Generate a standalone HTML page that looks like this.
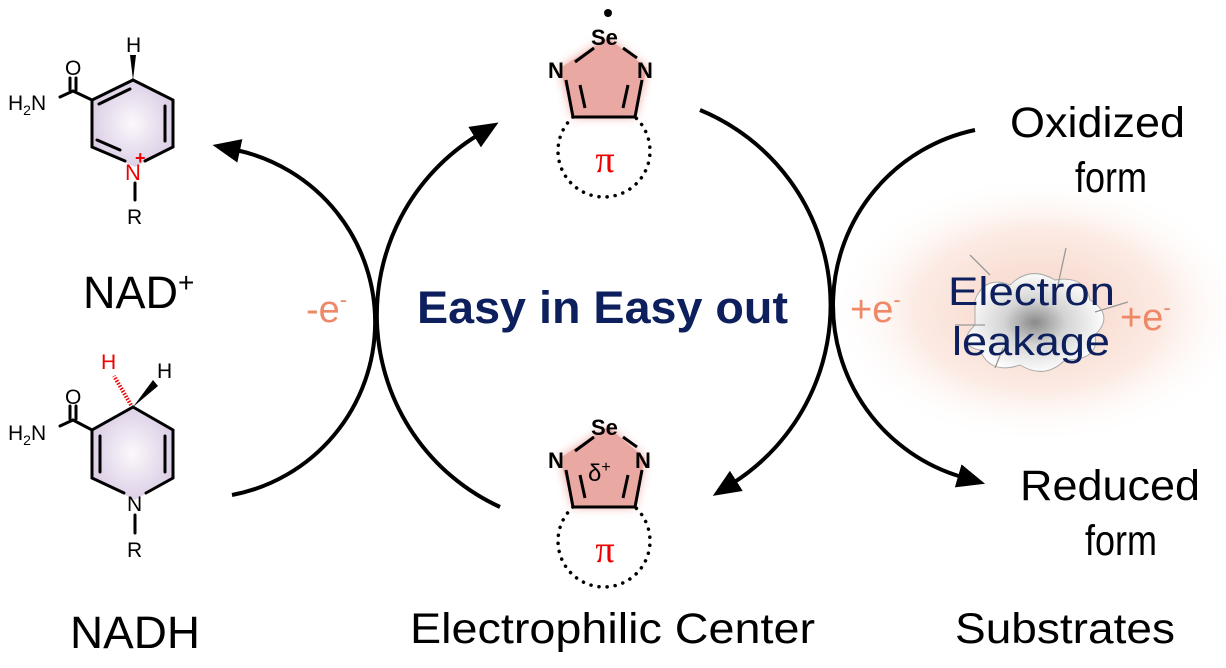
<!DOCTYPE html>
<html><head><meta charset="utf-8"><style>
html,body{margin:0;padding:0;background:#fff;}
svg{display:block;font-family:"Liberation Sans",Arial,sans-serif;}
</style></head><body>
<svg width="1226" height="668" viewBox="0 0 1226 668" xmlns="http://www.w3.org/2000/svg">
<defs>
<marker id="ah" markerWidth="30" markerHeight="26" refX="4" refY="12" orient="auto" markerUnits="userSpaceOnUse">
<path d="M0,0 L28,12 L0,24 z" fill="#000"/>
</marker>
<radialGradient id="ring" cx="50%" cy="50%" r="50%">
<stop offset="0" stop-color="#fbf8fc"/><stop offset="1" stop-color="#ddd0e6"/>
</radialGradient>
<radialGradient id="leak" cx="50%" cy="50%" r="50%">
<stop offset="0" stop-color="#f6d3c6"/><stop offset="0.6" stop-color="#fcebe4"/><stop offset="1" stop-color="#fff" stop-opacity="0"/>
</radialGradient>
<radialGradient id="cloud" cx="50%" cy="50%" r="50%">
<stop offset="0" stop-color="#8a8a8a"/><stop offset="0.45" stop-color="#d4d4d4"/><stop offset="1" stop-color="#fcfcfc"/>
</radialGradient>
<filter id="blur" x="-30%" y="-30%" width="160%" height="160%"><feGaussianBlur stdDeviation="5"/></filter>
</defs>

<!-- leakage glow -->
<ellipse cx="1040" cy="310" rx="210" ry="135" fill="url(#leak)"/>
<path d="M975,300 q10,-25 35,-15 q20,-20 45,-5 q30,-5 35,20 q25,15 5,35 q5,25 -30,25 q-20,20 -45,5 q-30,10 -40,-15 q-25,-5 -5,-25 z" fill="url(#cloud)" stroke="#aaa" stroke-width="1"/>
<g stroke="#999" stroke-width="1.3">
<line x1="970" y1="255" x2="990" y2="275"/><line x1="1066" y1="248" x2="1058" y2="285"/>
<line x1="955" y1="325" x2="985" y2="325"/><line x1="1095" y1="312" x2="1128" y2="302"/>
<line x1="995" y1="368" x2="1003" y2="348"/>
</g>

<!-- arcs -->
<g fill="none" stroke="#000" stroke-width="4">
<path d="M232,495 A176,176 0 0 0 236,150" marker-end="url(#ah)"/>
<path d="M500,507 A211,211 0 0 1 478,135" marker-end="url(#ah)"/>
<path d="M700,110 A211,211 0 0 1 733,483" marker-end="url(#ah)"/>
<path d="M975,130 A179,179 0 0 0 962,477" marker-end="url(#ah)"/>
</g>

<!-- NAD+ -->
<polygon points="133,80 173,100 173,147 135,167 92,147 92,100" fill="url(#ring)"/>
<g stroke="#000" stroke-width="3" fill="none" stroke-linecap="round">
<polyline points="133,80 173,100 173,147 145,161"/>
<polyline points="125,161 92,147 92,100 133,80"/>
<line x1="165" y1="106" x2="165" y2="141"/>
<line x1="99" y1="104" x2="130" y2="89"/>
<line x1="97" y1="140" x2="120" y2="150"/>
<line x1="135" y1="183" x2="135" y2="200"/>
<line x1="92" y1="100" x2="73" y2="91"/>
<line x1="73" y1="91" x2="60" y2="97"/>
<line x1="70" y1="90" x2="70" y2="78"/><line x1="76" y1="90" x2="76" y2="78"/>
</g>
<polygon points="133,80 130,55 136,55" fill="#000"/>
<g font-size="21" fill="#000">
<text x="126" y="52">H</text>
<text x="65" y="75">O</text>
<text x="8" y="110">H<tspan font-size="14" dy="5">2</tspan><tspan dy="-5">N</tspan></text>
<text x="127" y="224">R</text>
</g>
<text x="125" y="180" font-size="22" fill="#e00">N</text>
<text x="135" y="164" font-size="18" fill="#e00" font-weight="bold">+</text>

<!-- NADH -->
<polygon points="133,407 173,430 173,478 135,500 92,478 92,430" fill="url(#ring)"/>
<g stroke="#000" stroke-width="3" fill="none" stroke-linecap="round">
<polyline points="133,407 173,430 173,478 146,493"/>
<polyline points="124,493 92,478 92,430 133,407"/>
<line x1="165" y1="436" x2="165" y2="472"/>
<line x1="100" y1="436" x2="100" y2="472"/>
<line x1="135" y1="515" x2="135" y2="533"/>
<line x1="92" y1="430" x2="73" y2="420"/>
<line x1="73" y1="420" x2="60" y2="426"/>
<line x1="70" y1="419" x2="70" y2="406"/><line x1="76" y1="419" x2="76" y2="406"/>
</g>
<polygon points="133,407 153,380 158,386" fill="#000"/>
<line x1="131" y1="405" x2="114" y2="376" stroke="#e00" stroke-width="4" stroke-dasharray="1.5,1.5"/>
<g font-size="21" fill="#000">
<text x="157" y="378">H</text>
<text x="65" y="404">O</text>
<text x="8" y="440">H<tspan font-size="14" dy="5">2</tspan><tspan dy="-5">N</tspan></text>
<text x="127" y="557">R</text>
<text x="127" y="511">N</text>
</g>
<text x="101" y="369" font-size="21" fill="#e00">H</text>

<!-- Top pentagon -->
<polygon points="608,38 647,68 635,117 573,117 560,68" fill="#e9928a" opacity="0.8" filter="url(#blur)"/>
<polygon points="608,38 647,68 635,117 573,117 560,68" fill="#eaa8a2"/>
<g stroke="#000" stroke-width="3" fill="none">
<line x1="575" y1="62" x2="594" y2="48"/><line x1="623" y1="48" x2="637" y2="58"/>
<polyline points="566,80 573,117 635,117 642,80"/>
<line x1="580" y1="85" x2="585" y2="108"/><line x1="628" y1="85" x2="623" y2="108"/>
</g>
<circle cx="608" cy="13" r="4" fill="#000"/>
<g font-size="22" font-weight="bold" fill="#000">
<text x="591" y="45">Se</text><text x="548" y="78">N</text><text x="637" y="78">N</text>
</g>
<path d="M573,117 A46,46 0 1 0 635,117" fill="none" stroke="#000" stroke-width="3.5" stroke-dasharray="0.1,8" stroke-linecap="round"/>
<text x="605" y="172" font-size="38" fill="#e00" text-anchor="middle" font-family="'Liberation Serif',serif">π</text>

<!-- Bottom pentagon -->
<polygon points="608,427 645,458 635,507 573,507 560,458" fill="#e9928a" opacity="0.8" filter="url(#blur)"/>
<polygon points="608,427 645,458 635,507 573,507 560,458" fill="#eaa8a2"/>
<g stroke="#000" stroke-width="3" fill="none">
<line x1="575" y1="451" x2="594" y2="437"/><line x1="623" y1="437" x2="637" y2="447"/>
<polyline points="566,470 573,507 635,507 642,470"/>
<line x1="580" y1="475" x2="585" y2="498"/><line x1="628" y1="475" x2="623" y2="498"/>
</g>
<g font-size="22" font-weight="bold" fill="#000">
<text x="591" y="435">Se</text><text x="548" y="468">N</text><text x="635" y="468">N</text>
</g>
<text x="588" y="481" font-size="24" fill="#000">δ<tspan font-size="16" dy="-9">+</tspan></text>
<path d="M573,507 A46,46 0 1 0 635,507" fill="none" stroke="#000" stroke-width="3.5" stroke-dasharray="0.1,8" stroke-linecap="round"/>
<text x="605" y="562" font-size="38" fill="#e00" text-anchor="middle" font-family="'Liberation Serif',serif">π</text>

<!-- labels -->
<text x="417" y="323" font-size="45" font-weight="bold" fill="#0d1f5c" textLength="371" lengthAdjust="spacingAndGlyphs">Easy in Easy out</text>
<text x="83" y="308" font-size="45" fill="#000">NAD<tspan font-size="28" dy="-16">+</tspan></text>
<text x="70" y="648" font-size="45" fill="#000" textLength="130" lengthAdjust="spacingAndGlyphs">NADH</text>
<text x="410" y="643" font-size="43" fill="#000" textLength="405" lengthAdjust="spacingAndGlyphs">Electrophilic  Center</text>
<text x="955" y="643" font-size="43" fill="#000" textLength="220" lengthAdjust="spacingAndGlyphs">Substrates</text>
<text x="1010" y="137" font-size="43" fill="#000" textLength="175" lengthAdjust="spacingAndGlyphs">Oxidized</text>
<text x="1075" y="192" font-size="43" fill="#000" textLength="72" lengthAdjust="spacingAndGlyphs">form</text>
<text x="1020" y="500" font-size="43" fill="#000" textLength="180" lengthAdjust="spacingAndGlyphs">Reduced</text>
<text x="1085" y="555" font-size="43" fill="#000" textLength="72" lengthAdjust="spacingAndGlyphs">form</text>
<text x="306" y="322" font-size="38" fill="#ee8866">-e<tspan font-size="22" dy="-15">-</tspan></text>
<text x="850" y="322" font-size="38" fill="#ee8866">+e<tspan font-size="22" dy="-15">-</tspan></text>
<text x="1120" y="330" font-size="38" fill="#ee8866">+e<tspan font-size="22" dy="-15">-</tspan></text>
<text x="948" y="305" font-size="40" fill="#0d1f5c" textLength="167" lengthAdjust="spacingAndGlyphs">Electron</text>
<text x="952" y="355" font-size="40" fill="#0d1f5c" textLength="158" lengthAdjust="spacingAndGlyphs">leakage</text>
</svg>
</body></html>
